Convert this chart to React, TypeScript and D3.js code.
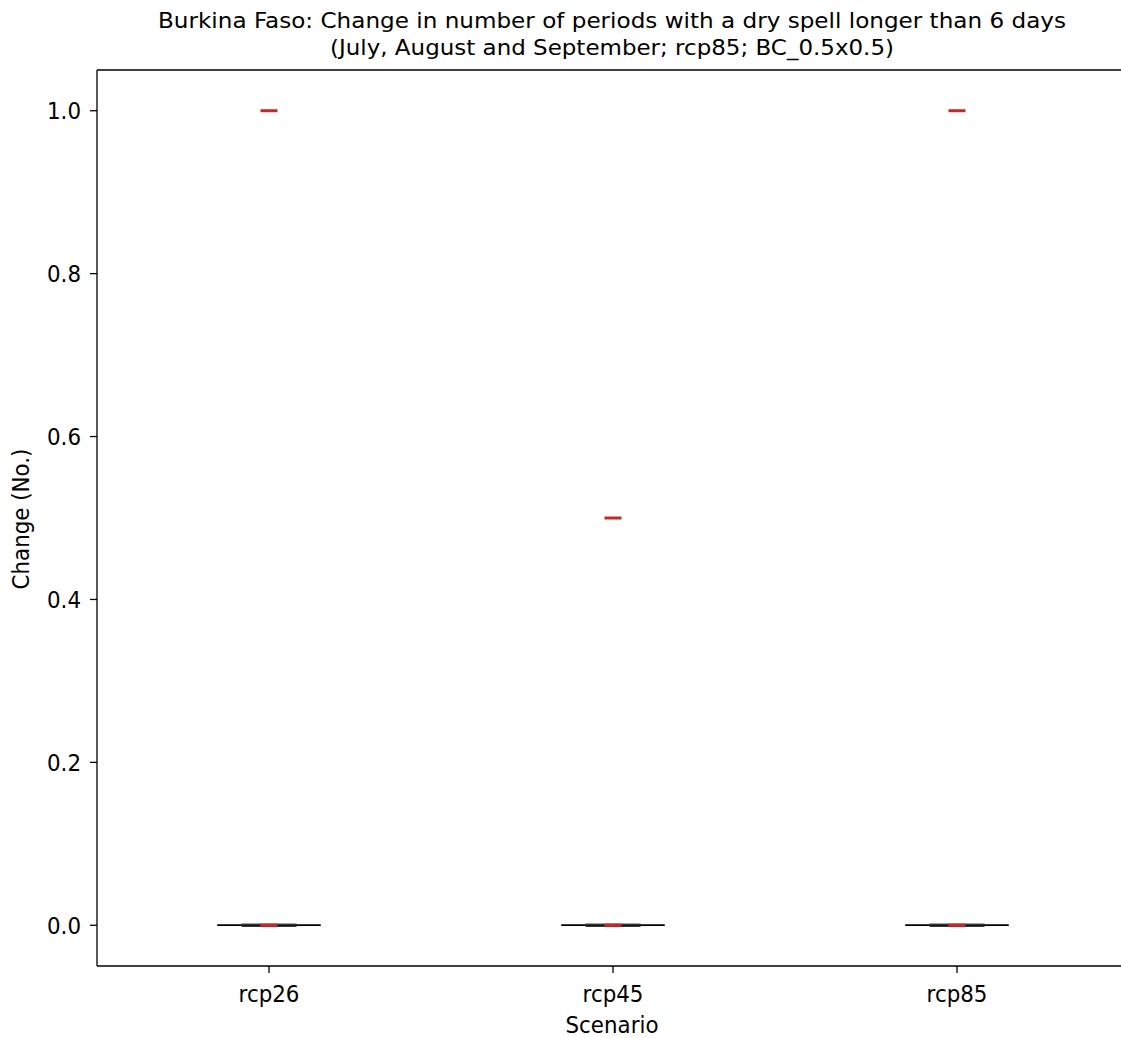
import React from "react";
import * as d3 from "d3";

const categories = ["rcp26", "rcp45", "rcp85"];
const q1 = [0, 0, 0];
const q3 = [0, 0, 0];
const medians = [0, 0, 0];
const whiskLow = [0, 0, 0];
const whiskHigh = [0, 0, 0];
const outliers = [[0, 1.0], [0, 0.5], [0, 1.0]];
const yTicks = [0.0, 0.2, 0.4, 0.6, 0.8, 1.0];
const titleLines = [
  "Burkina Faso: Change in number of periods with a dry spell longer than 6 days",
  "(July, August and September; rcp85; BC_0.5x0.5)",
];

const W = 1121, H = 1038;
const left = 97, top = 70, bottom = 966;
const FONT = "DejaVu Sans";
const SX = 0.93;

function T({ x, y, size, anchor = "middle", children, rotate = 0 }: any) {
  return (
    <g transform={`translate(${x},${y}) rotate(${rotate}) scale(${SX},1)`}>
      <text fontFamily={FONT} fontSize={size} textAnchor={anchor} fill="#000">{children}</text>
    </g>
  );
}

export default function App() {
  const x = d3.scaleLinear().domain([0.5, 3.5]).range([left, left + 1032]);
  const y = d3.scaleLinear().domain([-0.05, 1.05]).range([bottom, top]);
  const band = x(2) - x(1);
  const capHalf = band * 0.15;
  const boxHalf = band * 0.078;
  const flierHalf = 8.5;
  return (
    <svg width={W} height={H} style={{ position: "absolute", left: 0, top: 0 }}>
      <rect width={W} height={H} fill="#fff" />
      {titleLines.map((t, i) => (
        <text key={i} x={612} y={28 + i * 27} fontFamily={FONT} fontSize={22} textAnchor="middle"
          textLength={i === 0 ? 908 : 564} lengthAdjust="spacingAndGlyphs">{t}</text>
      ))}
      {categories.map((c, i) => {
        const cx = x(i + 1);
        return (
          <g key={c}>
            <line x1={cx} x2={cx} y1={y(q3[i])} y2={y(whiskHigh[i])} stroke="#000" strokeWidth={1.4} />
            <line x1={cx} x2={cx} y1={y(q1[i])} y2={y(whiskLow[i])} stroke="#000" strokeWidth={1.4} />
            <line x1={cx - capHalf} x2={cx + capHalf} y1={y(whiskLow[i])} y2={y(whiskLow[i])} stroke="#000" strokeWidth={1.4} />
            <line x1={cx - capHalf} x2={cx + capHalf} y1={y(whiskHigh[i])} y2={y(whiskHigh[i])} stroke="#000" strokeWidth={1.4} />
            <rect x={cx - boxHalf} width={boxHalf * 2} y={y(q3[i]) - 1} height={y(q1[i]) - y(q3[i]) + 2}
              fill="none" stroke="#333" strokeWidth={1.4} />
            <line x1={cx - flierHalf} x2={cx + flierHalf} y1={y(medians[i])} y2={y(medians[i])} stroke="#a01818" strokeWidth={3} />
            {outliers[i].map((v, j) => (
              <line key={j} x1={cx - flierHalf} x2={cx + flierHalf} y1={y(v)} y2={y(v)} stroke="#c62828" strokeWidth={3} />
            ))}
          </g>
        );
      })}
      <line x1={left} x2={W} y1={top} y2={top} stroke="#000" strokeWidth={1.3} />
      <line x1={left} x2={W} y1={bottom} y2={bottom} stroke="#000" strokeWidth={1.3} />
      <line x1={left} x2={left} y1={top} y2={bottom} stroke="#000" strokeWidth={1.3} />
      {yTicks.map((t) => (
        <g key={t}>
          <line x1={left - 7} x2={left} y1={y(t)} y2={y(t)} stroke="#000" strokeWidth={1.3} />
          <T x={left - 16} y={y(t) + 8.5} size={23} anchor="end">{t.toFixed(1)}</T>
        </g>
      ))}
      {categories.map((c, i) => (
        <g key={c}>
          <line x1={x(i + 1)} x2={x(i + 1)} y1={bottom} y2={bottom + 7} stroke="#000" strokeWidth={1.3} />
          <T x={x(i + 1)} y={1002} size={23}>{c}</T>
        </g>
      ))}
      <T x={612} y={1033} size={23}>Scenario</T>
      <T x={29} y={519} size={23} rotate={-90}>Change (No.)</T>
    </svg>
  );
}
